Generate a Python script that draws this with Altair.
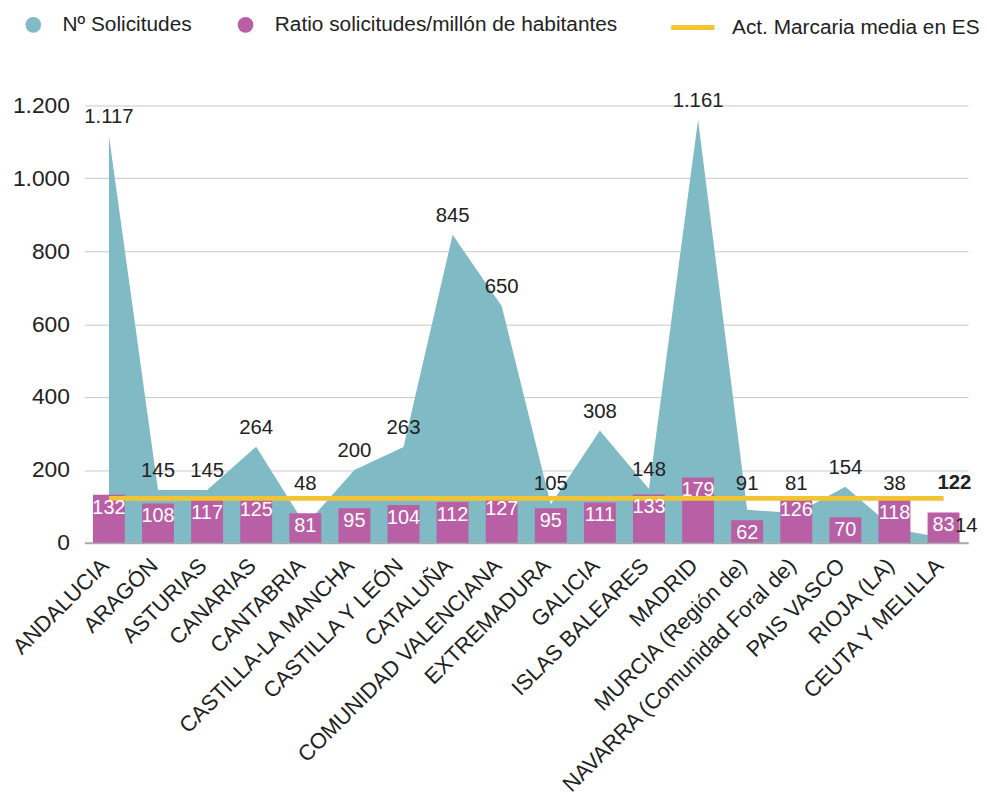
import altair as alt
import pandas as pd

regiones = ["ANDALUCIA", "ARAGÓN", "ASTURIAS", "CANARIAS", "CANTABRIA",
            "CASTILLA-LA MANCHA", "CASTILLA Y LEÓN", "CATALUÑA",
            "COMUNIDAD VALENCIANA", "EXTREMADURA", "GALICIA", "ISLAS BALEARES",
            "MADRID", "MURCIA (Región de)", "NAVARRA (Comunidad Foral de)",
            "PAIS VASCO", "RIOJA (LA)", "CEUTA Y MELILLA"]
solicitudes = [1117, 145, 145, 264, 48, 200, 263, 845, 650, 105, 308, 148,
               1161, 91, 81, 154, 38, 14]
ratio = [132, 108, 117, 125, 81, 95, 104, 112, 127, 95, 111, 133, 179, 62,
         126, 70, 118, 83]
media_es = 122

S1 = "Nº Solicitudes"
S2 = "Ratio solicitudes/millón de habitantes"
S3 = "Act. Marcaria media en ES"

df = pd.DataFrame({"region": regiones, "solicitudes": solicitudes, "ratio": ratio})
df["media"] = media_es
df["orden"] = range(len(df))
df["s1"] = S1
df["s2"] = S2
df["s3"] = S3

FONT = "Liberation Sans"
TEAL = "#80bac5"
PURPLE = "#b95fa5"
YELLOW = "#f3c431"
INK = "#222222"

legend1 = alt.Legend(
    title=None, orient="none", direction="horizontal",
    legendX=-62, legendY=-92,
    labelFontSize=21, labelFont=FONT, labelColor=INK, labelLimit=600,
    symbolType="circle", symbolSize=250, symbolStrokeWidth=0, symbolOpacity=1,
    labelOffset=19, columnPadding=43,
)
legend2 = alt.Legend(
    title=None, orient="none", direction="horizontal",
    legendX=589, legendY=-103,
    labelFontSize=21, labelFont=FONT, labelColor=INK, labelLimit=600,
    symbolType="stroke", symbolSize=1900, symbolStrokeWidth=5, symbolOpacity=1,
    labelOffset=15,
)

xenc = alt.X("region:N", sort=regiones, title=None,
             scale=alt.Scale(paddingInner=0.35),
             axis=alt.Axis(labelAngle=-45, labelFontSize=22, labelFont=FONT,
                           labelColor=INK, ticks=False, domainColor="#aaaaaa",
                           domainWidth=2, labelPadding=12, labelOffset=-11,
                           labelLimit=500))
yscale = alt.Scale(domain=[0, 1200], nice=False)
yaxis = alt.Axis(values=[0, 200, 400, 600, 800, 1000, 1200], title=None,
                 labelExpr="replace(format(datum.value, ','), ',', '.')",
                 labelFontSize=23, labelFont=FONT, labelColor=INK,
                 ticks=False, domain=False, gridColor="#c8c8c8", labelPadding=15)

base = alt.Chart(df)

area = base.mark_area(opacity=1).encode(
    x=xenc,
    y=alt.Y("solicitudes:Q", scale=yscale, axis=yaxis),
    color=alt.Color("s1:N", scale=alt.Scale(domain=[S1, S2], range=[TEAL, PURPLE]),
                    legend=legend1),
)
bars = base.mark_bar().encode(
    x=alt.X("region:N", sort=regiones),
    y=alt.Y("ratio:Q"),
    color=alt.Color("s2:N"),
)
line = base.mark_line(strokeWidth=5).encode(
    x=alt.X("region:N", sort=regiones),
    y=alt.Y("media:Q"),
    stroke=alt.Stroke("s3:N", scale=alt.Scale(domain=[S3], range=[YELLOW]),
                      legend=legend2),
)
fmt = "replace(format(datum.solicitudes, ','), ',', '.')"
# labels of low values are lifted clear of the average line and the bars
area_labels = base.transform_filter(f"datum.orden < {len(regiones) - 1}").transform_calculate(
    lab=fmt, laby="max(datum.solicitudes, 109)").mark_text(
    fontSize=20.5, font=FONT, color=INK, dy=-19).encode(
    x=alt.X("region:N", sort=regiones), y=alt.Y("laby:Q"), text="lab:N")
last_label = base.transform_filter(f"datum.orden == {len(regiones) - 1}").transform_calculate(
    lab=fmt).mark_text(fontSize=20.5, font=FONT, color=INK, dx=23, dy=-12).encode(
    x=alt.X("region:N", sort=regiones), y=alt.Y("solicitudes:Q"), text="lab:N")
bar_labels = base.mark_text(fontSize=20, font=FONT, color="white", baseline="top", dy=3).encode(
    x=alt.X("region:N", sort=regiones), y=alt.Y("ratio:Q"), text="ratio:Q")
media_label = base.transform_filter(f"datum.orden == {len(regiones) - 1}").mark_text(
    fontSize=20.5, font=FONT, color=INK, fontWeight="bold", dx=11, dy=-15).encode(
    x=alt.X("region:N", sort=regiones), y=alt.Y("media:Q"), text="media:Q")

chart = alt.layer(area, bars, line, area_labels, last_label, bar_labels, media_label).properties(
    width=891, height=441,
    autosize=alt.AutoSizeParams(type="none"),
    padding={"left": 77, "top": 95, "right": 11, "bottom": 256},
).configure_view(stroke=None)

chart.save("out.html", embed_options={"renderer": "svg", "actions": False})
